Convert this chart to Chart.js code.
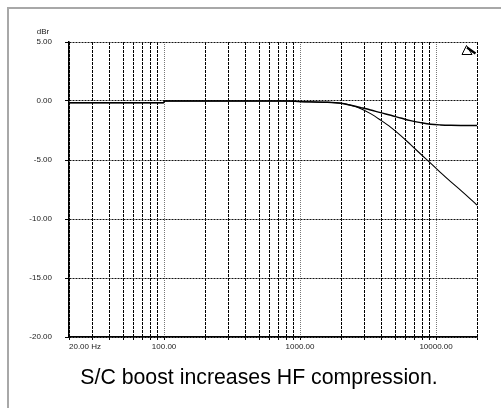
<!DOCTYPE html>
<html>
<head>
<meta charset="utf-8">
<script src="https://cdn.jsdelivr.net/npm/chart.js@4.4.1/dist/chart.umd.min.js"></script>
<style>
html,body{margin:0;padding:0;background:#fff;}
#wrap{position:relative;width:501px;height:408px;overflow:hidden;background:#fff;}
#frame{position:absolute;left:7px;top:7px;width:600px;height:600px;border-left:2px solid #a8a8a8;border-top:2px solid #a8a8a8;}
#c{position:absolute;left:0;top:0;}
#caption{position:absolute;left:8px;width:502px;top:367px;line-height:1;text-align:center;font-family:"Liberation Sans",Arial,sans-serif;font-size:21.3px;color:#000;white-space:nowrap;}
</style>
</head>
<body>
<div id="wrap">
  <div id="frame"></div>
  <canvas id="c" width="501" height="408"></canvas>
  <div id="caption">S/C boost increases HF compression.</div>
</div>
<script>
// ---- data ----
const freqs    = [20, 50, 99, 101, 200, 500, 800, 1000, 1500, 2000, 2360, 2800, 3300, 3900, 4650, 5500, 6500, 7700, 9150, 10800, 12800, 15200, 18000, 20000];
const normalDb = [-0.15, -0.15, -0.15, 0.0, 0.0, 0.0, 0.0, -0.05, -0.1, -0.19, -0.36, -0.56, -0.76, -0.99, -1.21, -1.44, -1.66, -1.83, -1.97, -2.03, -2.06, -2.07, -2.07, -2.07];
const boostDb  = [-0.15, -0.15, -0.15, 0.0, 0.0, 0.0, 0.0, -0.05, -0.1, -0.19, -0.36, -0.65, -1.07, -1.61, -2.23, -2.93, -3.70, -4.49, -5.28, -6.07, -6.83, -7.57, -8.33, -8.82];
const gridFreqs = [20, 30, 40, 50, 60, 70, 80, 90, 100, 200, 300, 400, 500, 600, 700, 800, 900, 1000, 2000, 3000, 4000, 5000, 6000, 7000, 8000, 9000, 10000, 20000];
const decadeFreqs = [100, 1000, 10000];
const xLabelValues = [20, 100, 1000, 10000];
const xLabelTexts = ["20.00 Hz", "100.00", "1000.00", "10000.00"];
const yTicks = [-20, -15, -10, -5, 0, 5];
const yUnit = "dBr";

const toPts = (ys) => freqs.map((f, i) => ({x: f, y: ys[i]}));
const FONT = '"Liberation Sans", Arial, sans-serif';

const overlay = {
  id: 'overlay',
  afterDraw(chart) {
    const {ctx, chartArea} = chart;
    const xs = chart.scales.x;
    ctx.save();
    ctx.fillStyle = '#222';
    ctx.font = '8px ' + FONT;
    ctx.textBaseline = 'middle';
    xLabelValues.forEach((v, i) => {
      const px = xs.getPixelForValue(v);
      ctx.textAlign = i === 0 ? 'left' : 'center';
      ctx.fillText(xLabelTexts[i], px, chartArea.bottom + 10);
    });
    ctx.textAlign = 'center';
    ctx.fillText(yUnit, 43, 32);
    // AP logo
    const r = chartArea.right, t = chartArea.top;
    ctx.strokeStyle = '#000';
    ctx.lineWidth = 1;
    ctx.beginPath();
    ctx.moveTo(r - 15, t + 12.5);
    ctx.lineTo(r - 10.5, t + 3.5);
    ctx.lineTo(r - 5, t + 12.5);
    ctx.closePath();
    ctx.stroke();
    ctx.lineWidth = 2.2;
    ctx.beginPath();
    ctx.moveTo(r - 10, t + 5.5);
    ctx.lineTo(r - 1.5, t + 11.5);
    ctx.stroke();
    ctx.restore();
  }
};

new Chart(document.getElementById('c'), {
  type: 'line',
  data: {
    datasets: [
      {data: toPts(normalDb), borderColor: '#000', borderWidth: 1.4, pointRadius: 0, fill: false, cubicInterpolationMode: 'monotone'},
      {data: toPts(boostDb), borderColor: '#000', borderWidth: 1.1, pointRadius: 0, fill: false, cubicInterpolationMode: 'monotone'}
    ]
  },
  options: {
    responsive: false,
    animation: false,
    parsing: false,
    layout: {padding: {top: 42, right: 24, left: 0, bottom: 0}},
    plugins: {legend: {display: false}, tooltip: {enabled: false}, title: {display: false}},
    scales: {
      x: {
        type: 'logarithmic', min: 20, max: 20000,
        afterBuildTicks: s => { s.ticks = gridFreqs.map(v => ({value: v})); },
        afterFit: s => { s.height = 71; },
        ticks: {display: false},
        grid: {
          color: c => (c.tick && decadeFreqs.includes(c.tick.value)) ? '#777' : '#000',
          lineWidth: 1, tickLength: 3, tickColor: '#000', tickBorderDash: [], drawTicks: true
        },
        border: {
          display: true, color: '#000', width: 1.5,
          dash: c => c.tick ? (decadeFreqs.includes(c.tick.value) ? [1, 1] : [3, 1]) : []
        }
      },
      y: {
        min: -20, max: 5,
        afterBuildTicks: s => { s.ticks = yTicks.map(v => ({value: v})); },
        afterFit: s => { s.width = 69; },
        ticks: {padding: 13, color: '#222', font: {family: FONT, size: 8}, callback: v => v.toFixed(2)},
        grid: {color: '#111', lineWidth: 1, tickLength: 4, tickColor: '#000', tickBorderDash: []},
        border: {
          display: true, color: '#000', width: 1.5,
          dash: c => c.tick ? [2, 1] : []
        }
      }
    }
  },
  plugins: [overlay]
});
</script>
</body>
</html>
